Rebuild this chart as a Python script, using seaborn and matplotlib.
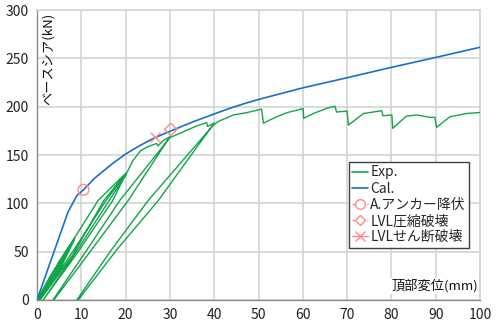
import matplotlib
matplotlib.use("Agg")
import matplotlib.pyplot as plt
from matplotlib.lines import Line2D
import seaborn as sns
import pandas as pd

# ---- data ----
exp_x = [0, 3, 6, 3.2, 0.2, 3.1, 6, 3.4, 0.3,
         5, 8.5, 5.2, 0.5, 5.1, 8.5, 5.4, 0.6,
         6.5, 13.8, 20, 15.1, 8, 0.7, 8.2, 15.6, 20, 17.1, 9, 1.4,
         9, 16.3, 20, 21.6, 23.4, 25, 27, 27.3, 28.5, 30,
         20.6, 12, 3.8, 3.6, 11, 18.7, 30,
         33, 36, 38.3, 38.5, 40, 27.4, 18, 9.3, 9.0, 16.5, 25.1, 40,
         41.3, 44.3, 47.3, 50.7, 51.1, 54.1, 56.4, 59.4, 60.1, 60.2, 62.4, 65.4,
         67.3, 67.6, 70.0, 70.3, 73.7, 77.8, 78.1, 80.1, 80.3, 83.4, 85.7, 88.7,
         89.8, 90.2, 93.2, 97, 100]
exp_y = [0, 25, 45, 20, 0, 24, 44, 19, 0,
         40, 64, 35, 0, 39, 63, 34, 0,
         50, 103, 131, 103, 46, 0, 51, 103, 130, 103, 48, 0,
         51, 103, 129, 144, 154.5, 158.6, 162, 159.5, 165, 169,
         103, 50, 0, 0, 50, 103, 168,
         174, 180, 183.5, 179.5, 183, 103, 52, 0, 0, 50, 103, 182,
         185.5, 191.4, 193.8, 197.5, 183, 189.6, 193.8, 197.3, 198, 188, 193, 198.3,
         200.5, 194.5, 195.5, 181, 193, 195.8, 190.7, 191.4, 177.6, 190.3, 191.4, 189,
         189, 178.6, 189.6, 193, 194]

cal_x = [0, 4, 7, 9, 10.5, 13, 17, 20, 23.3, 26.6, 30, 35, 40, 43.6, 47, 50,
         55, 60, 70, 80, 90, 100]
cal_y = [0, 52, 91, 108, 114, 126, 141, 151, 160, 168, 174.5, 184, 192.5, 198.5,
         203.5, 207.5, 213.5, 219.5, 230, 240.7, 251, 261.5]

anchor_x, anchor_y = [10.5], [114]      # A.アンカー降伏
comp_x, comp_y = [30.2], [176.5]        # LVL圧縮破壊
shear_x, shear_y = [26.6], [169]        # LVLせん断破壊

x_ticks = [0, 10, 20, 30, 40, 50, 60, 70, 80, 90, 100]
y_ticks = [0, 50, 100, 150, 200, 250, 300]

labels = ["Exp.", "Cal.", "A.アンカー降伏", "LVL圧縮破壊", "LVLせん断破壊"]
xlabel = "頂部変位(mm)"
ylabel = "ベースシア(kN)"

GREEN = "#12a54a"
BLUE = "#1a6fcc"
RED = "#ff8a8a"

sns.set_theme(style="white")
plt.rcParams["font.family"] = ["Noto Sans CJK JP", "DejaVu Sans"]

fig = plt.figure(figsize=(5, 3.25), dpi=100)
ax = fig.add_axes([0.074, 0.077, 0.886, 0.892])

exp_df = pd.DataFrame({"x": exp_x, "y": exp_y})
cal_df = pd.DataFrame({"x": cal_x, "y": cal_y})

sns.lineplot(data=exp_df, x="x", y="y", sort=False, estimator=None, color=GREEN,
             lw=1.0, ax=ax, zorder=3)
sns.lineplot(data=cal_df, x="x", y="y", sort=False, estimator=None, color=BLUE,
             lw=1.2, ax=ax, zorder=4)
sns.scatterplot(x=anchor_x, y=anchor_y, marker="o", s=60, facecolor="none",
                edgecolor=RED, linewidth=1.0, ax=ax, zorder=5)
sns.scatterplot(x=comp_x, y=comp_y, marker="D", s=40, facecolor="none",
                edgecolor=RED, linewidth=1.0, ax=ax, zorder=5)
sns.scatterplot(x=shear_x, y=shear_y, marker="x", s=50, color=RED,
                linewidth=1.0, ax=ax, zorder=5)

ax.set_xlim(0, 100)
ax.set_ylim(0, 300)
ax.set_xticks(x_ticks)
ax.set_yticks(y_ticks)
ax.set_xlabel("")
ax.set_ylabel("")
ax.grid(True, color="#d4d4d4", lw=1.2)
ax.set_axisbelow(True)
for side in ["top", "right"]:
    ax.spines[side].set_color("#d4d4d4")
    ax.spines[side].set_linewidth(1.2)
for side in ["left", "bottom"]:
    ax.spines[side].set_color("#8c8c8c")
    ax.spines[side].set_linewidth(1.0)
ax.tick_params(axis="both", which="major", length=4, width=1.0, color="#bdbdbd",
               labelsize=10, labelcolor="#222222", pad=2)

ax.text(0.012, 0.99, ylabel, rotation=90, ha="left", va="top",
        transform=ax.transAxes, fontsize=9.5, color="#111111")
ax.text(0.995, 0.025, xlabel, ha="right", va="bottom", transform=ax.transAxes,
        fontsize=9.5, color="#111111",
        bbox=dict(facecolor="white", edgecolor="none", pad=1))

handles = [
    Line2D([], [], color=GREEN, lw=1.2),
    Line2D([], [], color=BLUE, lw=1.2),
    Line2D([], [], color=RED, lw=1.0, ls="--", marker="o", mfc="white", mec=RED, ms=7),
    Line2D([], [], color=RED, lw=1.0, ls="--", marker="D", mfc="white", mec=RED, ms=5),
    Line2D([], [], color=RED, lw=1.0, ls="-", marker="x", mec=RED, ms=7),
]
leg = ax.legend(handles, labels, loc="upper left", bbox_to_anchor=(0.704, 0.476),
                fontsize=10, frameon=True, fancybox=False, handlelength=1.1,
                handletextpad=0.2, borderpad=0.25, labelspacing=0.16,
                borderaxespad=0)
leg.get_frame().set_edgecolor("#404040")
leg.get_frame().set_linewidth(1.0)
leg.get_frame().set_alpha(1)
leg.set_zorder(10)

fig.savefig("out.png", dpi=100)
